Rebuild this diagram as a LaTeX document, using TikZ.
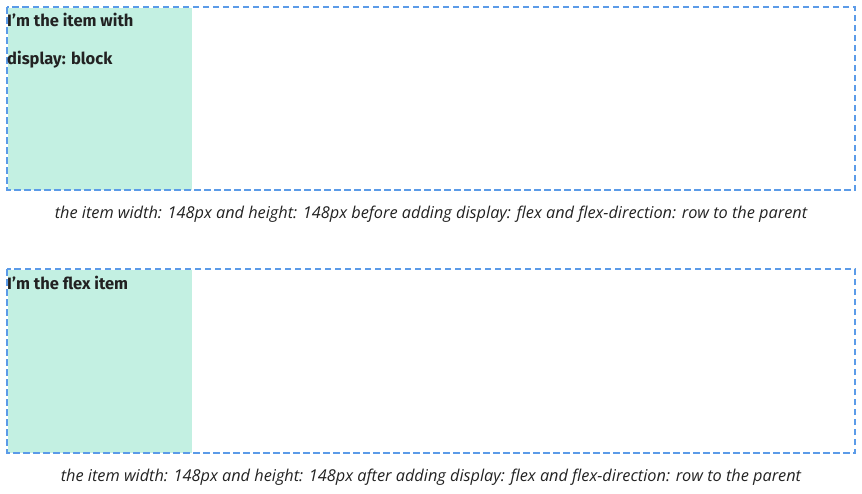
\documentclass[tikz,border=0pt]{standalone}
\usepackage{fontspec}
\setmainfont{Fira Sans}
\newfontfamily\capfont{Open Sans}
\definecolor{boxblue}{HTML}{5B9BE8}
\definecolor{itemgreen}{HTML}{C3F0E2}
\definecolor{txt}{HTML}{222222}
\newcommand{\sq}{{\char"0027}}
\begin{document}
\begin{tikzpicture}[x=1pt,y=-1pt,
  container/.style={draw=boxblue,line width=1.6pt,dash pattern=on 6.5pt off 3.5pt},
  itembox/.style={fill=itemgreen},
  itemtext/.style={anchor=north west,inner sep=0pt,font=\fontsize{16.5}{38}\selectfont\bfseries,text=txt,align=left},
  caption/.style={font=\capfont\itshape\fontsize{16.3}{19}\selectfont,text=txt,inner sep=0pt}]
\useasboundingbox (0,0) rectangle (862,493);
% first
\fill[itembox] (8,8) rectangle (192,190);
\draw[container] (7,7) rectangle (855,190);
\node[itemtext] (t1) at (7,13) {I\sq m the item with\\display: block};
\node[caption] (c1) at (431,214) {the item width: 148px and height: 148px before adding display: flex and flex-direction: row to the parent};
% second
\fill[itembox] (8,270) rectangle (192,453);
\draw[container] (7,269) rectangle (855,453);
\node[itemtext] (t2) at (7,276) {I\sq m the flex item};
\node[caption] (c2) at (431,477) {the item width: 148px and height: 148px after adding display: flex and flex-direction: row to the parent};
\end{tikzpicture}
\end{document}
